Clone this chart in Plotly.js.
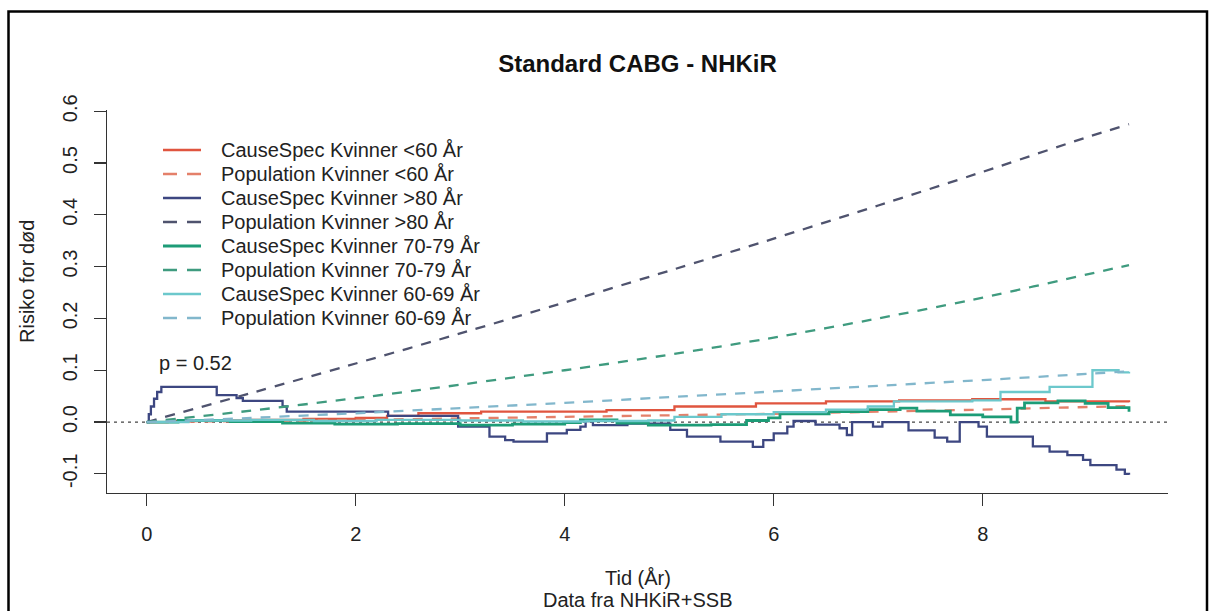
<!DOCTYPE html>
<html>
<head>
<meta charset="utf-8">
<script src="https://cdn.plot.ly/plotly-3.0.1.min.js"></script>
<style>
  html, body { margin: 0; padding: 0; background: #fff; }
  #chart { width: 1216px; height: 611px; }
</style>
</head>
<body>
<div id="chart"></div>
<script>
// Cause-specific risk difference (step curves), by age group
const causeLt60T = [0, 0.2, 0.5, 1.0, 1.5, 2.0, 2.3, 2.6, 3.2, 4.4, 5.05, 5.83, 6.5, 7.2, 7.9, 8.6, 9.4];
const causeLt60V = [0, 0.002, 0.003, 0.004, 0.006, 0.008, 0.012, 0.017, 0.02, 0.023, 0.03, 0.036, 0.04, 0.042, 0.044, 0.04, 0.038];

const causeGt80T = [0, 0.02, 0.04, 0.07, 0.1, 0.14, 0.67, 0.86, 0.92, 1.3, 1.34, 2.31, 2.98, 3.28, 3.43, 3.51, 3.83, 4.02, 4.15, 4.2, 4.27, 4.6, 5.01, 5.17, 5.49, 5.8, 5.9, 6.0, 6.13, 6.19, 6.4, 6.63, 6.7, 6.75, 6.95, 7.04, 7.29, 7.54, 7.66, 7.78, 7.96, 8.04, 8.48, 8.64, 8.81, 8.96, 9.03, 9.28, 9.36, 9.4];
const causeGt80V = [0, 0.015, 0.03, 0.045, 0.058, 0.068, 0.052, 0.046, 0.041, 0.03, 0.02, 0.012, -0.009, -0.028, -0.035, -0.038, -0.022, -0.015, -0.009, 0.002, -0.006, -0.003, -0.015, -0.028, -0.038, -0.048, -0.035, -0.022, -0.009, 0.002, -0.005, -0.012, -0.025, 0.0, -0.009, 0.0, -0.016, -0.03, -0.038, 0.0, -0.009, -0.028, -0.047, -0.057, -0.064, -0.073, -0.083, -0.092, -0.1, -0.102];

const cause7079T = [0, 0.3, 0.8, 1.3, 1.8, 2.4, 3.0, 3.5, 4.0, 4.15, 4.5, 4.8, 5.4, 5.74, 5.95, 6.06, 6.53, 6.9, 7.21, 7.37, 7.69, 8.0, 8.27, 8.33, 8.4, 8.72, 8.98, 9.2, 9.4];
const cause7079V = [0, 0.003, 0.001, -0.002, -0.004, -0.003, -0.006, -0.004, -0.001, 0.004, -0.002, -0.006, -0.005, 0.003, 0.008, 0.016, 0.02, 0.024, 0.027, 0.021, 0.014, 0.01, 0.0, 0.027, 0.037, 0.041, 0.036, 0.028, 0.02];

const cause6069T = [0, 0.4, 1.0, 1.6, 2.2, 3.0, 3.6, 4.2, 4.8, 5.05, 5.5, 6.0, 6.5, 6.9, 7.15, 7.9, 8.17, 8.64, 9.05, 9.3, 9.4];
const cause6069V = [0, 0.003, 0.004, 0.002, 0.004, 0.003, 0.001, 0.002, 0.003, 0.01, 0.015, 0.019, 0.024, 0.03, 0.04, 0.042, 0.058, 0.068, 0.1, 0.096, 0.097];

// Expected population risk, by age group
const popT = [0, 1, 2, 3, 4, 5, 6, 7, 8, 9, 9.4];
const popLt60 = [0, 0.002, 0.004, 0.007, 0.01, 0.013, 0.016, 0.02, 0.024, 0.029, 0.031];
const popGt80 = [0, 0.056, 0.113, 0.171, 0.231, 0.292, 0.354, 0.418, 0.483, 0.55, 0.575];
const pop7079 = [0, 0.022, 0.046, 0.072, 0.1, 0.13, 0.163, 0.2, 0.24, 0.285, 0.303];
const pop6069 = [0, 0.008, 0.017, 0.027, 0.037, 0.048, 0.059, 0.07, 0.081, 0.093, 0.098];

const seriesNames = [
  'CauseSpec Kvinner <60 År', 'Population Kvinner <60 År',
  'CauseSpec Kvinner >80 År', 'Population Kvinner >80 År',
  'CauseSpec Kvinner 70-79 År', 'Population Kvinner 70-79 År',
  'CauseSpec Kvinner 60-69 År', 'Population Kvinner 60-69 År'
];

const xTickVals = [0, 2, 4, 6, 8];
const xTickText = ['0', '2', '4', '6', '8'];
const yTickVals = [-0.1, 0, 0.1, 0.2, 0.3, 0.4, 0.5, 0.6];
const yTickText = ['-0.1', '0.0', '0.1', '0.2', '0.3', '0.4', '0.5', '0.6'];

const FONT = 'Liberation Sans, Arial, sans-serif';
const FS = 20;
const TXT = '#222';
const DASH = '10px,9px';

// line style per series, same order as seriesNames
const styles = [
  { color: '#e0553f', width: 2.3 },
  { color: '#e4806a', width: 2.3, dash: DASH },
  { color: '#3d4781', width: 2.3 },
  { color: '#4f536e', width: 2.3, dash: DASH },
  { color: '#1d9c77', width: 2.8 },
  { color: '#3f9b7f', width: 2.3, dash: DASH },
  { color: '#6cc8cc', width: 2.3 },
  { color: '#82b7cc', width: 2.3, dash: DASH }
];

const seriesX = [causeLt60T, popT, causeGt80T, popT, cause7079T, popT, cause6069T, popT];
const seriesY = [causeLt60V, popLt60, causeGt80V, popGt80, cause7079V, pop7079, cause6069V, pop6069];

const traces = seriesNames.map((name, i) => {
  const st = styles[i];
  const line = { color: st.color, width: st.width };
  if (st.dash) { line.dash = st.dash; line.shape = 'spline'; line.smoothing = 0.6; }
  else { line.shape = 'hv'; }
  return { type: 'scatter', mode: 'lines', name, x: seriesX[i], y: seriesY[i], line };
});

// plot area: left 107, right 1168, top 110, bottom 493 (px)
const L = 107, R = 48, T = 110, B = 118;
const PW = 1216 - L - R, PH = 611 - T - B;
const px2x = px => (px - L) / PW;
const py2y = py => (611 - B - py) / PH;

// legend drawn as keys + labels at the top left of the plot
const legTop = 150, legStep = 24, keyX0 = 163, keyX1 = 201, labelX = 219;
const legendShapes = seriesNames.map((name, i) => ({
  type: 'line', xref: 'paper', yref: 'paper',
  x0: px2x(keyX0), x1: px2x(keyX1),
  y0: py2y(legTop + i * legStep), y1: py2y(legTop + i * legStep),
  line: { color: styles[i].color, width: styles[i].width, dash: styles[i].dash ? '14px,10px' : 'solid' }
}));
const legendLabels = seriesNames.map((name, i) => ({
  text: name, xref: 'paper', yref: 'paper',
  x: px2x(labelX), y: py2y(legTop + i * legStep),
  xanchor: 'left', yanchor: 'middle', showarrow: false,
  font: { family: FONT, size: FS, color: TXT }
}));

const layout = {
  width: 1216, height: 611,
  margin: { l: L, r: R, t: T, b: B, pad: 0 },
  paper_bgcolor: '#ffffff', plot_bgcolor: '#ffffff',
  font: { family: FONT, size: FS, color: TXT },
  showlegend: false,
  title: {
    text: '<b>Standard CABG - NHKiR</b>',
    font: { family: FONT, size: 24, color: '#111' },
    x: 0.5, xref: 'paper', xanchor: 'center',
    y: 1 - 63.5 / 611, yref: 'container', yanchor: 'middle'
  },
  xaxis: {
    range: [-0.38, 9.773], autorange: false,
    tickvals: xTickVals, ticktext: xTickText,
    ticks: 'outside', ticklen: 12, tickwidth: 1.2, tickcolor: '#333',
    ticklabelstandoff: 11,
    showline: true, linecolor: '#333', linewidth: 1.2, mirror: false,
    showgrid: false, zeroline: false,
    tickfont: { family: FONT, size: FS, color: TXT }
  },
  yaxis: {
    range: [-0.137, 0.6024], autorange: false,
    tickvals: yTickVals, ticktext: yTickText, tickangle: -90,
    ticks: 'outside', ticklen: 12, tickwidth: 1.2, tickcolor: '#333',
    ticklabelstandoff: 9,
    showline: true, linecolor: '#333', linewidth: 1.2, mirror: false,
    showgrid: false, zeroline: false,
    tickfont: { family: FONT, size: FS, color: TXT }
  },
  shapes: [
    // dotted reference line at zero
    { type: 'line', xref: 'paper', x0: 0, x1: 1, yref: 'y', y0: 0, y1: 0,
      line: { color: '#444', width: 1.2, dash: '3px,4px' }, layer: 'below' },
    // outer frame
    { type: 'rect', xref: 'paper', yref: 'paper',
      x0: px2x(8.5), x1: px2x(1207), y0: py2y(640), y1: py2y(11.5),
      line: { color: '#000', width: 2.5 }, fillcolor: 'rgba(0,0,0,0)' }
  ].concat(legendShapes),
  annotations: [
    { text: 'p = 0.52', xref: 'x', yref: 'y', x: 0.1, y: 0.114,
      xanchor: 'left', yanchor: 'middle', showarrow: false,
      font: { family: FONT, size: FS, color: TXT } },
    { text: 'Risiko for død', xref: 'paper', yref: 'paper',
      x: px2x(27), y: py2y(282), xanchor: 'center', yanchor: 'middle',
      textangle: -90, showarrow: false,
      font: { family: FONT, size: FS, color: TXT } },
    { text: 'Tid (År)', xref: 'paper', yref: 'paper',
      x: 0.5, y: py2y(578), xanchor: 'center', yanchor: 'middle',
      showarrow: false, font: { family: FONT, size: FS, color: TXT } },
    { text: 'Data fra NHKiR+SSB', xref: 'paper', yref: 'paper',
      x: 0.5, y: py2y(600), xanchor: 'center', yanchor: 'middle',
      showarrow: false, font: { family: FONT, size: FS, color: TXT } }
  ].concat(legendLabels)
};

Plotly.newPlot('chart', traces, layout, { displayModeBar: false, staticPlot: true });
</script>
</body>
</html>
